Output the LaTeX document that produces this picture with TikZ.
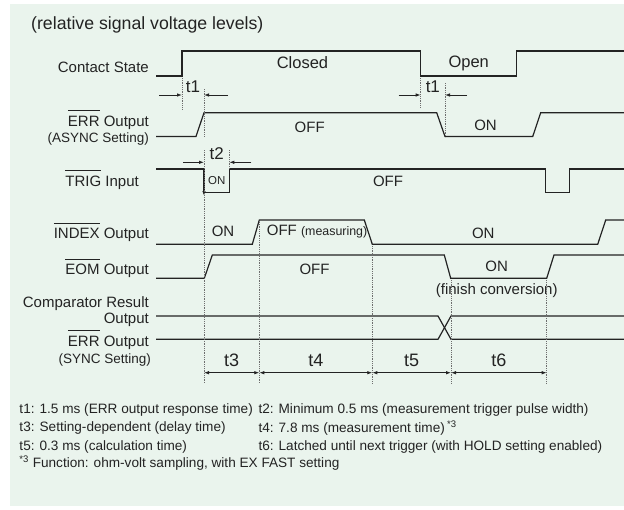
\documentclass[tikz,border=0pt]{standalone}
\usepackage{fontspec}
\setmainfont{Liberation Sans}
\usetikzlibrary{arrows.meta,positioning,calc}

\definecolor{panel}{RGB}{234,244,237}
\definecolor{ink}{RGB}{35,35,35}
\definecolor{guide}{RGB}{110,110,110}

\newcommand{\barred}[1]{\setbox0\hbox{#1}\rlap{\rule[1em]{\wd0}{0.07em}}\box0\relax}

\begin{document}
\begin{tikzpicture}[
  x=1pt, y=-1pt,
  >={Latex[length=5pt,width=3.5pt]},
  wave/.style={draw=ink, line width=1.2pt},
  guideline/.style={draw=guide, densely dotted, line width=0.8pt},
  dimline/.style={draw=ink, line width=0.8pt},
  siglabel/.style={anchor=base east, inner sep=0pt, text=ink, font=\fontsize{15}{16}\selectfont},
  statelabel/.style={inner sep=0pt, text=ink, font=\fontsize{15}{16}\selectfont},
  tlabel/.style={inner sep=0pt, text=ink, font=\fontsize{18}{19}\selectfont},
  note/.style={anchor=west, inner sep=0pt, text=ink, font=\fontsize{13.6}{15}\selectfont}
]

% --- Frame
\useasboundingbox (0,0) rectangle (624,509);
\fill[panel] (10,4) rectangle (624,506);

\node[anchor=west, inner sep=0pt, text=ink, font=\fontsize{17.7}{19}\selectfont] (title) at (31,25) {(relative signal voltage levels)};

% --- Signal names
\node[siglabel] (contact) at (149,72.4) {Contact State};
\node[siglabel] (errA)    at (149,126.4) {\barred{ERR} Output};
\node[siglabel, font=\fontsize{13.5}{14}\selectfont] (async) at (149,142.5) {(ASYNC Setting)};
\node[siglabel] (trig)    at (139,186.4) {\barred{TRIG} Input};
\node[siglabel] (index)   at (149,238.7) {\barred{INDEX} Output};
\node[siglabel] (eom)     at (149,274.7) {\barred{EOM} Output};
\node[siglabel] (comp)    at (149,307.7) {Comparator Result};
\node[siglabel] (compout) at (149,323.7) {Output};
\node[siglabel] (errS)    at (149,346.1) {\barred{ERR} Output};
\node[siglabel, font=\fontsize{13.5}{14}\selectfont] (sync) at (151,363.1) {(SYNC Setting)};

% --- Waveforms
\draw[wave] (156,76) -- (182,76) -- (182,51) -- (420.7,51) -- (420.7,76) -- (516.7,76) -- (516.7,51) -- (624,51);
\draw[wave] (156,136.5) -- (196,136.5) -- (204,112.7) -- (436.7,112.7) -- (445,136.5) -- (532.7,136.5) -- (540.7,112.7) -- (624,112.7);
\draw[wave] (156,169) -- (204,169);
\draw[wave,->] (204,169) -- (204,196);
\draw[wave] (204,192.7) -- (229.3,192.7) -- (229.3,169) -- (545.7,169) -- (545.7,192.7) -- (569.3,192.7) -- (569.3,169) -- (624,169);
\draw[wave] (156,244.3) -- (252.3,244.3) -- (259.3,220) -- (364.3,220) -- (372.3,244.3) -- (597.7,244.3) -- (605.7,220) -- (624,220);
\draw[wave] (156,278.3) -- (204.3,278.3) -- (212.3,255) -- (444.3,255) -- (450.7,278.3) -- (546.7,278.3) -- (554,255) -- (624,255);
\draw[wave] (156,316) -- (438,316) -- (451,339.3) -- (624,339.3);
\draw[wave] (156,339.3) -- (438,339.3) -- (451,316) -- (624,316);

% --- State texts
\node[statelabel, font=\fontsize{16.5}{17}\selectfont] (closed) at (302.5,63) {Closed};
\node[statelabel, font=\fontsize{16.5}{17}\selectfont] (open)   at (468.7,63) {Open};
\node[statelabel] (offA) at (309.7,127) {OFF};
\node[statelabel] (onA)  at (485.5,125) {ON};
\node[statelabel, font=\fontsize{11.5}{12}\selectfont] (onT) at (216.7,181) {ON};
\node[statelabel] (offT) at (388,181.7) {OFF};
\node[statelabel] (onI)  at (223,231.7) {ON};
\node[statelabel, anchor=west] (offI) at (266.7,231.7) {OFF {\fontsize{12.4}{13}\selectfont(measuring)}};
\node[statelabel] (onI2) at (483.3,233.3) {ON};
\node[statelabel] (offE) at (314.5,269.3) {OFF};
\node[statelabel] (onE)  at (496.7,266.7) {ON};
\node[statelabel, below=11pt of onE] (finish) {(finish conversion)};

% --- Guide lines
\draw[guideline] (182,78) -- (182,110);
\draw[guideline] (204,89) -- (204,137);
\draw[guideline] (420.7,78) -- (420.7,108);
\draw[guideline] (445,83) -- (445,137);
\draw[guideline] (204,150) -- (204,383);
\draw[guideline] (229.3,150) -- (229.3,169);
\draw[guideline] (259.3,222) -- (259.3,383);
\draw[guideline] (372.3,246) -- (372.3,383);
\draw[guideline] (451,280) -- (451,383);
\draw[guideline] (546.7,280) -- (546.7,383);

% --- Response times (arrows from outside)
\coordinate (a1) at (182,95);   \coordinate (b1) at (204,95);
\coordinate (a2) at (420.7,95); \coordinate (b2) at (445,95);
\coordinate (a3) at (204,162.3); \coordinate (b3) at (229.3,162.3);
\draw[dimline,->] ($(a1)+(-23,0)$) -- (a1);
\draw[dimline,->] ($(b1)+(24,0)$) -- (b1);
\draw[dimline,->] ($(a2)+(-22,0)$) -- (a2);
\draw[dimline,->] ($(b2)+(22,0)$) -- (b2);
\draw[dimline,->] ($(a3)+(-21,0)$) -- (a3);
\draw[dimline,->] ($(b3)+(22,0)$) -- (b3);
\path (a1) -- (b1) node[tlabel, midway, above=2.5pt, font=\fontsize{17}{18}\selectfont] (t1a) {t1};
\path (a2) -- (b2) node[tlabel, midway, above=2.5pt, font=\fontsize{17}{18}\selectfont] (t1b) {t1};
\path (a3) -- (b3) node[tlabel, midway, above=2.5pt, font=\fontsize{17}{18}\selectfont] (t2) {t2};

% --- Measurement sequence
\coordinate (m3) at (204,372.7);
\coordinate (m4) at (259.3,372.7);
\coordinate (m5) at (372.3,372.7);
\coordinate (m6) at (451,372.7);
\coordinate (m7) at (546.7,372.7);
\draw[dimline,<->] (m3) -- (m4) node[tlabel, midway, above=6pt] (t3) {t3};
\draw[dimline,<->] (m4) -- (m5) node[tlabel, midway, above=6pt] (t4) {t4};
\draw[dimline,<->] (m5) -- (m6) node[tlabel, midway, above=6pt] (t5) {t5};
\draw[dimline,<->] (m6) -- (m7) node[tlabel, midway, above=6pt] (t6) {t6};

% --- Notes
\node[note] (n1) at (19.3,410)   {t1: 1.5 ms (ERR output response time)};
\node[note] (n2) at (258.3,410)  {t2: Minimum 0.5 ms (measurement trigger pulse width)};
\node[note] (n3) at (19.3,428.3) {t3: Setting-dependent (delay time)};
\node[note] (n4) at (258.3,428.3) {t4: 7.8 ms (measurement time)\,\textsuperscript{*3}};
\node[note] (n5) at (19.3,446.7) {t5: 0.3 ms (calculation time)};
\node[note] (n6) at (258.3,446.7) {t6: Latched until next trigger (with HOLD setting enabled)};
\node[note] (n7) at (19.3,463.3) {\textsuperscript{*3} Function: ohm-volt sampling, with EX FAST setting};

\end{tikzpicture}
\end{document}
